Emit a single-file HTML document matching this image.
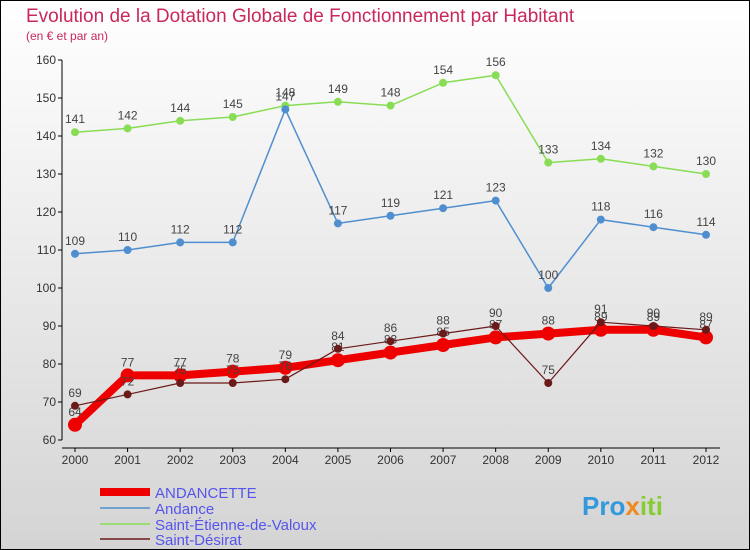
<!DOCTYPE html>
<html><head><meta charset="utf-8"><style>
body{margin:0}
#c{position:relative;width:750px;height:550px;overflow:hidden;font-family:"Liberation Sans",sans-serif}
</style></head><body>
<div id="c">
<svg id="s" width="750" height="550" xmlns="http://www.w3.org/2000/svg">
<defs><linearGradient id="bg" x1="0" y1="0" x2="0" y2="1"><stop offset="0" stop-color="#ffffff"/><stop offset="1" stop-color="#d4d4d4"/></linearGradient></defs>
<rect x="0.5" y="0.5" width="749" height="549" fill="url(#bg)" stroke="#000"/>
<text x="26" y="22" font-size="19" fill="#c8285a">Evolution de la Dotation Globale de Fonctionnement par Habitant</text>
<text x="26" y="40" font-size="12" fill="#c8285a">(en € et par an)</text>
<g id="axes"></g><g id="series"></g>
<g>
<line x1="100" y1="492" x2="150" y2="492" stroke="#ee0000" stroke-width="8"/>
<text x="155" y="498" font-size="15" fill="#5555ee">ANDANCETTE</text>
<line x1="100" y1="508" x2="150" y2="508" stroke="#4f8fcf" stroke-width="1.5"/>
<text x="155" y="514" font-size="15" fill="#5555ee">Andance</text>
<line x1="100" y1="524" x2="150" y2="524" stroke="#88dd55" stroke-width="1.5"/>
<text x="155" y="530" font-size="15" fill="#5555ee">Saint-Étienne-de-Valoux</text>
<line x1="100" y1="539" x2="150" y2="539" stroke="#6b1a1a" stroke-width="1.5"/>
<text x="155" y="545" font-size="15" fill="#5555ee">Saint-Désirat</text>
</g>
<text x="582" y="515" font-size="26" font-weight="bold" fill="#3399dd">Pro<tspan fill="#f08a1c">x</tspan><tspan fill="#88cc33">iti</tspan></text>
</svg></div>
<script>
const years=[2000,2001,2002,2003,2004,2005,2006,2007,2008,2009,2010,2011,2012];
const yTicks=[60,70,80,90,100,110,120,130,140,150,160];
const andancette=[64,77,77,78,79,81,83,85,87,88,89,89,87];
const andance=[109,110,112,112,147,117,119,121,123,100,118,116,114];
const stEtienne=[141,142,144,145,148,149,148,154,156,133,134,132,130];
const stDesirat=[69,72,75,75,76,84,86,88,90,75,91,90,89];
const NS="http://www.w3.org/2000/svg";
const xs=i=>75+i*(706-75)/(years.length-1);
const ys=v=>440-(v-60)*3.8;
function mk(t,a,p){const e=document.createElementNS(NS,t);for(const k in a)e.setAttribute(k,a[k]);p.appendChild(e);return e;}
const ax=document.getElementById('axes');
const yl=mk('line',{x1:62,y1:60,x2:62,y2:440,stroke:'#000'},ax);


yTicks.forEach(v=>{
  mk('line',{x1:58,y1:ys(v),x2:62,y2:ys(v),stroke:'#000'},ax);
  const t=mk('text',{x:56,y:ys(v)+4,'font-size':12,'text-anchor':'end',fill:'#333'},ax);t.textContent=v;
  
  
});
const xl=mk('line',{x1:62,y1:448,x2:720,y2:448,stroke:'#000'},ax);


years.forEach((y,i)=>{
  mk('line',{x1:xs(i),y1:448,x2:xs(i),y2:452,stroke:'#000'},ax);
  const t=mk('text',{x:xs(i),y:464,'font-size':12,'text-anchor':'middle',fill:'#333'},ax);t.textContent=y;
  
  
});
const sg=document.getElementById('series');
function draw(vals,color,w,r,name){
  const g=mk('g',{},sg);
  
  
  mk('polyline',{points:vals.map((v,i)=>xs(i)+','+ys(v)).join(' '),fill:'none',stroke:color,'stroke-width':w,'stroke-linejoin':'round'},g);
  vals.forEach((v,i)=>{
    const c=mk('circle',{cx:xs(i),cy:ys(v),r:r,fill:color},g);
    
    
    const t=mk('text',{x:xs(i),y:ys(v)-9,'font-size':12,'text-anchor':'middle',fill:'#444'},g);t.textContent=v;
    
    
  });
}
draw(stEtienne,'#88dd55',1.5,4,'series-saint-etienne');
draw(andance,'#4f8fcf',1.5,4,'series-andance');
draw(andancette,'#ee0000',8,7,'series-andancette');
draw(stDesirat,'#6b1a1a',1.2,4,'series-saint-desirat');
</script>
</body></html>
